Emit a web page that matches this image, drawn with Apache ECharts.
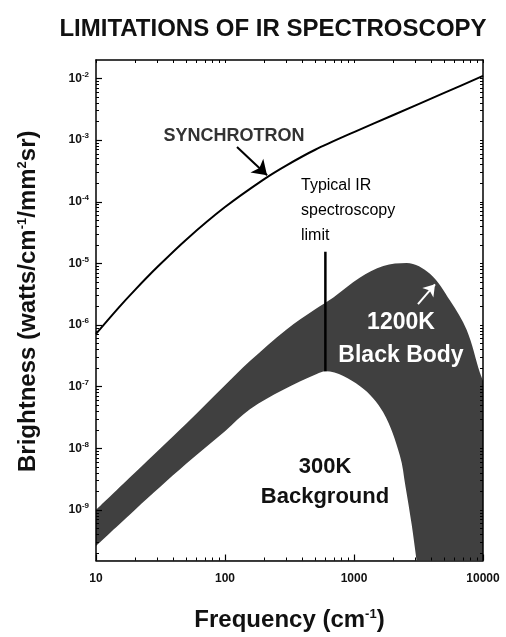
<!DOCTYPE html>
<html>
<head>
<meta charset="utf-8">
<script src="https://cdn.jsdelivr.net/npm/echarts@6/dist/echarts.min.js"></script>
<style>
  html, body { margin: 0; padding: 0; background: #fff; }
  #chart { width: 506px; height: 637px; }
</style>
</head>
<body>
<div id="chart"></div>
<script>
// synchrotron brightness (watts/cm^-1/mm^2 sr) vs frequency (cm^-1)
const synFreq   = [10, 15, 20, 30, 50, 100, 200, 300, 500, 1000, 2000, 5000, 10000];
const synBright = [7.2e-7, 1.92e-6, 3.69e-6, 8.8e-6, 2.43e-5, 8.2e-5, 2.31e-4, 3.9e-4, 6.98e-4, 1.35e-3, 2.53e-3, 5.83e-3, 1.1e-2];

// 1200K black body (top edge of the band)
const hotFreq   = [10, 20, 50, 100, 156, 300, 500, 692, 1114, 1688, 2560, 3880, 5550, 7480, 9480, 10000];
const hotBright = [1.0e-9, 4.0e-9, 2.5e-8, 1.05e-7, 2.6e-7, 8.5e-7, 1.8e-6, 2.8e-6, 5.9e-6, 9.1e-6, 1.02e-5, 6.8e-6, 2.5e-6, 8.3e-7, 1.66e-7, 1.25e-7];

// 300K background (bottom edge of the band)
const coldFreq   = [10, 20, 50, 100, 156, 283, 514, 600, 1114, 1688, 2270, 2500, 2800, 3060];
const coldBright = [2.6e-10, 1.0e-9, 5.6e-9, 1.9e-8, 4.3e-8, 8.9e-8, 1.6e-7, 1.78e-7, 1.02e-7, 3.8e-8, 7.6e-9, 2.5e-9, 5.8e-10, 1.5e-10];

// typical IR spectroscopy limit
const limitFreq   = [600, 600];
const limitBright = [1.55e-5, 1.78e-7];

// axis ticks (decades)
const xTickExp    = [1, 2, 3, 4];
const xTickLabels = ['10', '100', '1000', '10000'];
const yTickExp    = [-9, -8, -7, -6, -5, -4, -3, -2];

const lg = Math.log10;
const pairs = (fs, bs) => fs.map((f, i) => [lg(f), lg(bs[i])]);

function minorTicks(lo, hi) {
  const out = [];
  for (let d = lo; d < hi; d++) {
    for (let k = 2; k <= 9; k++) out.push(d + lg(k));
  }
  return out;
}
const xMinor = minorTicks(1, 4);
const yMinor = minorTicks(-10, -1).filter(v => v > -9.82 && v < -1.7);

const FONT = "'Liberation Sans', Arial, sans-serif";
const chart = echarts.init(document.getElementById('chart'));

const frameLine = { show: true, lineStyle: { color: '#000', width: 1.5 } };

const option = {
  backgroundColor: '#fff',
  animation: false,
  title: {
    text: 'LIMITATIONS OF IR SPECTROSCOPY',
    left: 268, top: 12,
    textAlign: 'center',
    textStyle: { fontFamily: FONT, fontSize: 24, fontWeight: 'bold', color: '#111' }
  },
  grid: { left: 96, right: 23, top: 60, bottom: 71 },
  xAxis: [
    {
      type: 'value', position: 'bottom', min: 1, max: 4, z: 10,
      axisLine: frameLine,
      axisTick: { inside: true, length: 6, customValues: xTickExp, lineStyle: { color: '#000', width: 1.2 } },
      axisLabel: {
        customValues: xTickExp,
        formatter: v => xTickLabels[xTickExp.indexOf(Math.round(v))],
        fontFamily: FONT, fontWeight: 'bold', fontSize: 12, color: '#111', margin: 12
      },
      splitLine: { show: false },
      name: 'Frequency (cm{s|-1})',
      nameLocation: 'middle', nameGap: 47,
      nameTextStyle: {
        fontFamily: FONT, fontWeight: 'bold', fontSize: 24, color: '#111',
        rich: { s: { fontFamily: FONT, fontWeight: 'bold', fontSize: 13, padding: [0, 0, 12, 0] } }
      }
    },
    {
      type: 'value', position: 'bottom', min: 1, max: 4, z: 10,
      axisLine: { show: false },
      axisTick: { inside: true, length: 3, customValues: xMinor, lineStyle: { color: '#000' } },
      axisLabel: { show: false }, splitLine: { show: false }
    },
    {
      type: 'value', position: 'top', min: 1, max: 4, z: 10,
      axisLine: frameLine,
      axisTick: { inside: true, length: 3, customValues: xTickExp.concat(xMinor), lineStyle: { color: '#000' } },
      axisLabel: { show: false }, splitLine: { show: false }
    }
  ],
  yAxis: [
    {
      type: 'value', position: 'left', min: -9.82, max: -1.7, z: 10,
      axisLine: frameLine,
      axisTick: { inside: true, length: 6, customValues: yTickExp, lineStyle: { color: '#000', width: 1.2 } },
      axisLabel: {
        customValues: yTickExp,
        formatter: v => '{b|10}{s|' + Math.round(v) + '}',
        margin: 7,
        rich: {
          b: { fontFamily: FONT, fontWeight: 'bold', fontSize: 12, color: '#111' },
          s: { fontFamily: FONT, fontWeight: 'bold', fontSize: 8, color: '#111', padding: [0, 0, 8, 0] }
        }
      },
      splitLine: { show: false },
      name: 'Brightness (watts/cm{s|-1}/mm{s|2}sr)',
      nameLocation: 'middle', nameGap: 55, nameRotate: 90,
      nameTextStyle: {
        fontFamily: FONT, fontWeight: 'bold', fontSize: 24, color: '#111',
        padding: [0, 0, 0, 18],
        rich: { s: { fontFamily: FONT, fontWeight: 'bold', fontSize: 13, padding: [0, 0, 12, 0] } }
      }
    },
    {
      type: 'value', position: 'left', min: -9.82, max: -1.7, z: 10,
      axisLine: { show: false },
      axisTick: { inside: true, length: 3, customValues: yMinor, lineStyle: { color: '#000' } },
      axisLabel: { show: false }, splitLine: { show: false }
    },
    {
      type: 'value', position: 'right', min: -9.82, max: -1.7, z: 10,
      axisLine: frameLine,
      axisTick: { inside: true, length: 3, customValues: yTickExp.concat(yMinor), lineStyle: { color: '#000' } },
      axisLabel: { show: false }, splitLine: { show: false }
    }
  ],
  series: [
    {
      name: '1200K Black Body', type: 'line', data: pairs(hotFreq, hotBright),
      smooth: 0.35, symbol: 'none', z: 2,
      lineStyle: { width: 0 },
      areaStyle: { color: '#404040', opacity: 1, origin: 'start' },
      markLine: {
        silent: true, symbol: ['none', 'arrow'], symbolSize: 11,
        label: { show: false },
        lineStyle: { color: '#fff', width: 2, type: 'solid' },
        data: [[{ coord: [3.496, -5.66] }, { coord: [3.628, -5.34] }]]
      }
    },
    {
      name: '300K Background', type: 'line', data: pairs(coldFreq, coldBright),
      smooth: 0.35, symbol: 'none', z: 3,
      lineStyle: { width: 0 },
      areaStyle: { color: '#fff', opacity: 1, origin: 'start' }
    },
    {
      name: 'Synchrotron', type: 'line', data: pairs(synFreq, synBright),
      smooth: 0.3, symbol: 'none', z: 4,
      lineStyle: { color: '#000', width: 2 },
      markLine: {
        silent: true, symbol: ['none', 'arrow'], symbolSize: 14,
        label: { show: false },
        lineStyle: { color: '#000', width: 2, type: 'solid' },
        data: [[{ coord: [2.093, -3.11] }, { coord: [2.326, -3.57] }]]
      }
    },
    {
      name: 'Limit', type: 'line', data: pairs(limitFreq, limitBright),
      symbol: 'none', z: 5,
      lineStyle: { color: '#000', width: 2.5 }
    }
  ],
  graphic: [
    { type: 'text', x: 234, y: 136, z: 20,
      style: { text: 'SYNCHROTRON', font: "bold 18px " + FONT, fill: '#333', align: 'center', verticalAlign: 'middle' } },
    { type: 'text', x: 301, y: 173, z: 20,
      style: { text: 'Typical IR\nspectroscopy\nlimit', font: "16px " + FONT, lineHeight: 25, fill: '#000', verticalAlign: 'top' } },
    { type: 'text', x: 401, y: 339, z: 20,
      style: { text: '1200K\nBlack Body', font: "bold 23px " + FONT, lineHeight: 33, fill: '#fff', align: 'center', verticalAlign: 'middle' } },
    { type: 'text', x: 325, y: 482, z: 20,
      style: { text: '300K\nBackground', font: "bold 22px " + FONT, lineHeight: 30, fill: '#111', align: 'center', verticalAlign: 'middle' } }
  ]
};

chart.setOption(option);
</script>
</body>
</html>
